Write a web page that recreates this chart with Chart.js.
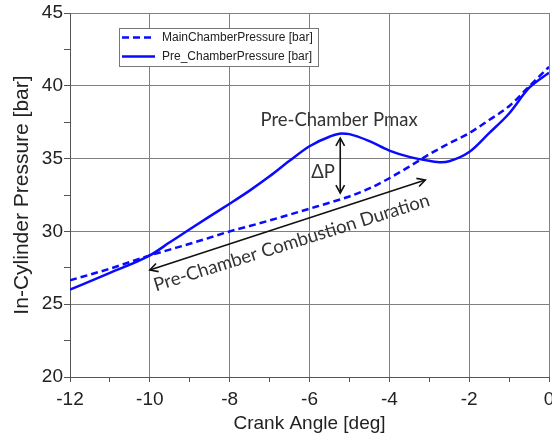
<!DOCTYPE html>
<html><head><meta charset="utf-8">
<script src="https://cdn.jsdelivr.net/npm/chart.js@4/dist/chart.umd.min.js"></script>
<style>html,body{margin:0;padding:0;background:#fff;}canvas{display:block;}</style>
</head><body>
<canvas id="c" width="552" height="439"></canvas>
<script>
// ---- data ----
const crankAngle = [-12,-11,-10,-9.5,-9,-8.5,-8,-7.5,-7,-6.5,-6,-5.5,-5.2,-5,-4.5,-4,-3.5,-3,-2.7,-2.5,-2,-1.5,-1,-0.5,0];
const mainChamberPressure = [26.64,27.44,28.35,28.75,29.15,29.57,30.0,30.37,30.75,31.15,31.56,31.97,32.22,32.4,32.95,33.65,34.45,35.3,35.75,36.05,36.75,37.65,38.6,39.95,41.3];
const preChamberPressure  = [26.0,27.15,28.35,29.25,30.15,31.03,31.9,32.8,33.78,34.85,35.85,36.5,36.72,36.68,36.2,35.55,35.12,34.85,34.75,34.82,35.45,36.75,38.1,39.85,40.9];
const seriesLabels = ['MainChamberPressure [bar]','Pre_ChamberPressure [bar]'];
const xTickLabels = [-12,-10,-8,-6,-4,-2,0];
const yTickLabels = [20,25,30,35,40,45];

const blue = '#0a0aff';
const gridColor = '#808080';
const textColor = '#222';

function drawArrowHead(ctx, x, y, ang){
  const L = 9, a = 0.5;
  ctx.beginPath();
  ctx.moveTo(x - L*Math.cos(ang-a), y - L*Math.sin(ang-a));
  ctx.lineTo(x, y);
  ctx.lineTo(x - L*Math.cos(ang+a), y - L*Math.sin(ang+a));
  ctx.stroke();
}
function drawDoubleArrow(ctx, x1, y1, x2, y2){
  ctx.beginPath(); ctx.moveTo(x1,y1); ctx.lineTo(x2,y2); ctx.stroke();
  const ang = Math.atan2(y2-y1, x2-x1);
  drawArrowHead(ctx, x2, y2, ang);
  drawArrowHead(ctx, x1, y1, ang+Math.PI);
}

const legendPlugin = {
  id: 'boxLegend',
  afterDatasetsDraw(chart){
    const {ctx, chartArea: ca} = chart;
    const bx = ca.left + 49, by = ca.top + 15, bw = 199, bh = 38;
    ctx.save();
    ctx.fillStyle = '#fff';
    ctx.fillRect(bx, by, bw, bh);
    ctx.strokeStyle = '#777'; ctx.lineWidth = 1;
    ctx.strokeRect(bx+0.5, by+0.5, bw, bh);
    chart.data.datasets.forEach((ds, i) => {
      const yy = by + 9.5 + i*19;
      ctx.strokeStyle = ds.borderColor; ctx.lineWidth = 2.5;
      ctx.setLineDash(ds.borderDash || []);
      ctx.beginPath(); ctx.moveTo(bx+3, yy); ctx.lineTo(bx+36, yy); ctx.stroke();
      ctx.setLineDash([]);
      ctx.fillStyle = textColor; ctx.font = '12px "Liberation Sans"';
      ctx.textAlign = 'left'; ctx.textBaseline = 'middle';
      ctx.fillText(ds.label, bx+43, yy+0.5);
    });
    ctx.restore();
  }
};

const annotationPlugin = {
  id: 'annot',
  afterDatasetsDraw(chart){
    const {ctx, scales:{x, y}} = chart;
    const px = v => x.getPixelForValue(v), py = v => y.getPixelForValue(v);
    ctx.save();
    ctx.fillStyle = '#333';
    ctx.font = '18.5px Lato';
    ctx.textAlign = 'center'; ctx.textBaseline = 'middle';
    ctx.fillText('Pre-Chamber Pmax', px(-5.26), py(37.65));
    ctx.fillText('ΔP', px(-5.66), py(34.08));
    ctx.strokeStyle = '#111'; ctx.lineWidth = 1.6;
    drawDoubleArrow(ctx, px(-5.23), py(36.41), px(-5.23), py(32.64));
    drawDoubleArrow(ctx, px(-10), py(27.35), px(-3.1), py(33.53));
    const x1 = px(-9.87), y1 = py(25.86), x2 = px(-2.935), y2 = py(31.81);
    ctx.translate((x1+x2)/2, (y1+y2)/2);
    ctx.rotate(Math.atan2(y2-y1, x2-x1));
    ctx.textBaseline = 'alphabetic';
    ctx.fillText('Pre-Chamber Combustion Duration', 0, 0);
    ctx.restore();
  }
};

const tickFont = {family: '"Liberation Sans"', size: 19};

new Chart(document.getElementById('c'), {
  type: 'line',
  data: {
    datasets: [
      {label: seriesLabels[0], data: crankAngle.map((a,i)=>({x:a, y:mainChamberPressure[i]})),
       borderColor: blue, borderWidth: 2.5, borderDash: [7,4], pointRadius: 0,
       cubicInterpolationMode: 'monotone', fill: false},
      {label: seriesLabels[1], data: crankAngle.map((a,i)=>({x:a, y:preChamberPressure[i]})),
       borderColor: blue, borderWidth: 2.5, pointRadius: 0,
       cubicInterpolationMode: 'monotone', fill: false}
    ]
  },
  options: {
    responsive: false, animation: false,
    layout: {padding: {top: 13, right: 3, left: 0, bottom: 0}},
    plugins: {legend: {display: false}, tooltip: {enabled: false}},
    scales: {
      x: {
        type: 'linear', min: -12, max: 0,
        ticks: {stepSize: 1, autoSkip: false, maxRotation: 0, font: tickFont, color: textColor, padding: 6,
                callback: v => xTickLabels.includes(v) ? String(v) : ''},
        grid: {color: c => (c.tick && xTickLabels.includes(c.tick.value)) ? gridColor : 'rgba(0,0,0,0)',
               tickColor: '#555', tickLength: 5, lineWidth: 1},
        border: {color: '#555', width: 1},
        title: {display: true, text: 'Crank Angle [deg]', color: textColor,
                font: {family: '"Liberation Sans"', size: 19}, padding: {top: 0, bottom: 4}},
        afterFit: s => { s.height = 62; s.paddingLeft = 0; s.paddingRight = 0; }
      },
      y: {
        type: 'linear', min: 20, max: 45,
        ticks: {stepSize: 2.5, autoSkip: false, font: tickFont, color: textColor, padding: 1,
                callback: v => yTickLabels.includes(v) ? String(v) : ''},
        grid: {color: c => (c.tick && yTickLabels.includes(c.tick.value)) ? gridColor : 'rgba(0,0,0,0)',
               tickColor: '#555', tickLength: 6, lineWidth: 1},
        border: {color: '#555', width: 1},
        title: {display: true, text: 'In-Cylinder Pressure [bar]', color: textColor,
                font: {family: '"Liberation Sans"', size: 21}, padding: {top: 10, bottom: 0}},
        afterFit: s => { s.width = 70; s.paddingTop = 0; s.paddingBottom = 0; }
      }
    }
  },
  plugins: [legendPlugin, annotationPlugin]
});
</script>
</body></html>
